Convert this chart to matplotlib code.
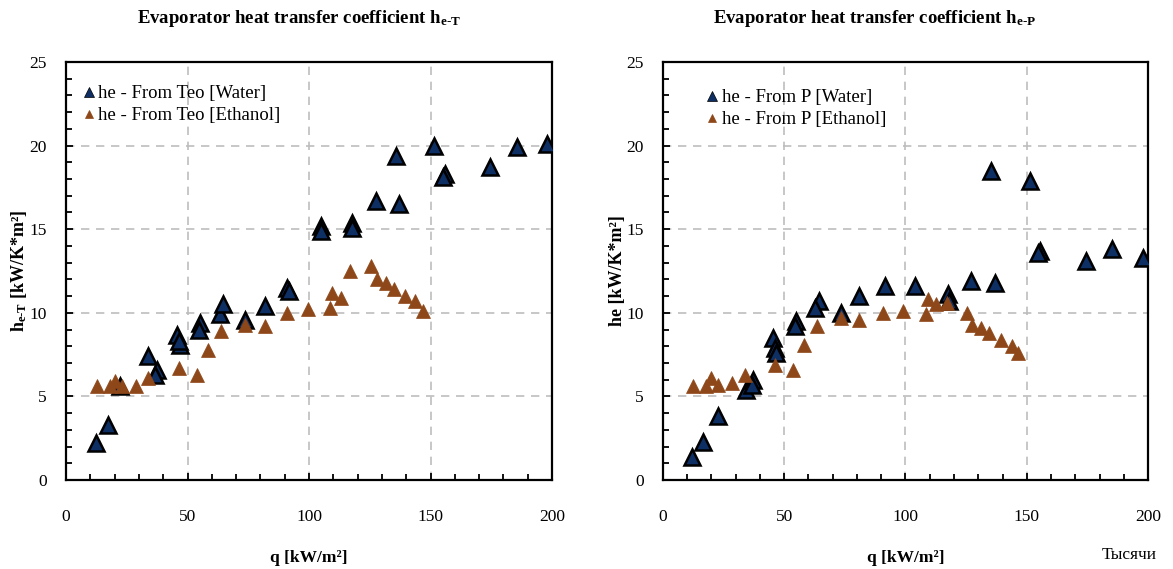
"""Evaporator heat transfer coefficient vs heat flux (two panels)."""
import matplotlib.pyplot as plt
from matplotlib.ticker import MultipleLocator

plt.rcParams["font.family"] = ["Liberation Serif", "DejaVu Serif"]
plt.rcParams["mathtext.fontset"] = "custom"
plt.rcParams["mathtext.rm"] = "Liberation Serif"
plt.rcParams["mathtext.bf"] = "Liberation Serif:bold"

# left panel: h_e-T from Teo
q_teo_water = [12.3, 17.4, 22.2, 33.9, 37.3, 36.6, 45.5, 46.9, 46.5, 55.1, 54.9,
               63.4, 64.7, 73.7, 81.9, 90.8, 91.9, 104.8, 104.8, 117.6, 117.6,
               127.6, 135.8, 136.9, 151.4, 156.0, 155.0, 174.5, 185.5, 197.8]
h_teo_water = [2.2, 3.3, 5.6, 7.4, 6.6, 6.3, 8.7, 8.1, 8.3, 9.4, 9.0,
               9.9, 10.5, 9.6, 10.4, 11.5, 11.3, 15.2, 14.9, 15.4, 15.1,
               16.7, 19.4, 16.5, 20.0, 18.3, 18.1, 18.7, 19.9, 20.1]
q_teo_eth = [12.9, 18.1, 20.2, 22.9, 28.8, 33.9, 46.6, 54.0, 58.6, 63.7, 73.7,
             81.9, 91.1, 99.7, 108.6, 109.6, 113.0, 116.9, 125.4, 128.1, 131.7,
             135.0, 139.6, 143.6, 146.8]
h_teo_eth = [5.6, 5.6, 5.9, 5.6, 5.6, 6.1, 6.7, 6.3, 7.8, 8.9, 9.3,
             9.2, 10.0, 10.2, 10.3, 11.2, 10.9, 12.5, 12.8, 12.0, 11.8,
             11.4, 11.0, 10.7, 10.1]

# right panel: h_e-P from pressure
q_p_water = [11.8, 16.6, 22.8, 34.2, 37.2, 36.6, 45.5, 46.2, 46.4, 54.8, 54.4,
             64.5, 62.7, 73.3, 81.0, 91.5, 103.9, 117.7, 118.0, 126.9, 136.9,
             135.1, 151.3, 155.5, 154.8, 174.4, 185.2, 197.8]
h_p_water = [1.4, 2.3, 3.8, 5.4, 6.0, 5.7, 8.5, 7.9, 7.6, 9.5, 9.2,
             10.7, 10.3, 10.0, 11.0, 11.6, 11.6, 11.1, 10.7, 11.9, 11.8,
             18.5, 17.9, 13.7, 13.6, 13.1, 13.8, 13.3]
q_p_eth = [12.2, 17.7, 19.7, 22.8, 28.3, 33.8, 46.2, 53.7, 58.1, 63.4, 73.3,
           81.0, 90.6, 99.1, 108.5, 109.4, 112.6, 117.0, 125.2, 127.3, 131.1,
           134.6, 139.3, 143.8, 146.5]
h_p_eth = [5.6, 5.6, 6.1, 5.7, 5.8, 6.3, 6.9, 6.6, 8.1, 9.2, 9.7,
           9.6, 10.0, 10.1, 9.9, 10.8, 10.5, 10.6, 10.0, 9.3, 9.1,
           8.8, 8.4, 8.0, 7.6]

WATER = "#0d2f63"
ETH = "#8e4718"
GRID = "#bdbdbd"

fig = plt.figure(figsize=(11.73, 5.69), dpi=100)
ax1 = fig.add_axes([0.0563, 0.1564, 0.4143, 0.7346])
ax2 = fig.add_axes([0.5652, 0.1564, 0.4135, 0.7346])

panels = (
    (ax1, q_teo_water, h_teo_water, q_teo_eth, h_teo_eth,
     "he - From Teo [Water]", "he - From Teo [Ethanol]",
     r"$\mathbf{h_{e\text{-}T}}$ [kW/K*m²]", (0.0, 0.985)),
    (ax2, q_p_water, h_p_water, q_p_eth, h_p_eth,
     "he - From P [Water]", "he - From P [Ethanol]", "he [kW/K*m²]",
     (0.055, 0.975)),
)

for ax, qw, hw, qe, he, lw, le, ylab, anchor in panels:
    ax.plot(qw, hw, "^", ms=11, mfc=WATER, mec="black", mew=1.8,
            label=lw, zorder=3)
    ax.plot(qe, he, "^", ms=10.5, mfc=ETH, mec=ETH, mew=0.5,
            label=le, zorder=4)
    ax.set_xlim(0, 200)
    ax.set_ylim(0, 25)
    ax.xaxis.set_major_locator(MultipleLocator(50))
    ax.xaxis.set_minor_locator(MultipleLocator(10))
    ax.yaxis.set_major_locator(MultipleLocator(5))
    ax.yaxis.set_minor_locator(MultipleLocator(1))
    ax.tick_params(which="both", direction="in", width=1.3, labelsize=12.5)
    ax.tick_params(which="major", length=5)
    ax.tick_params(which="minor", length=4)
    ax.tick_params(axis="x", pad=21)
    ax.tick_params(axis="y", pad=14)
    ax.grid(True, which="major", color=GRID, ls=(0, (5, 4)), lw=1.2)
    for sp in ax.spines.values():
        sp.set_linewidth(1.6)
    ax.set_xlabel("q [kW/m²]", fontsize=12.5, fontweight="bold", labelpad=18)
    ax.set_ylabel(ylab, fontsize=13, fontweight="bold", labelpad=0)
    leg = ax.legend(loc="upper left", frameon=False, fontsize=13.5,
                    markerscale=0.6, handlelength=0.6, handletextpad=0.2,
                    labelspacing=0.25, bbox_to_anchor=anchor)
    for h in leg.legend_handles:
        h.set_markeredgewidth(0.5)

fig.text(0.255, 0.968, r"Evaporator heat transfer coefficient $\mathbf{h_{e\text{-}T}}$",
         ha="center", va="center", fontsize=13.5, fontweight="bold")
fig.text(0.746, 0.968, r"Evaporator heat transfer coefficient $\mathbf{h_{e\text{-}P}}$",
         ha="center", va="center", fontsize=13.5, fontweight="bold")
fig.text(0.963, 0.025, "Тысячи", ha="center", va="center", fontsize=12.5)

fig.savefig("out.png", dpi=100)
